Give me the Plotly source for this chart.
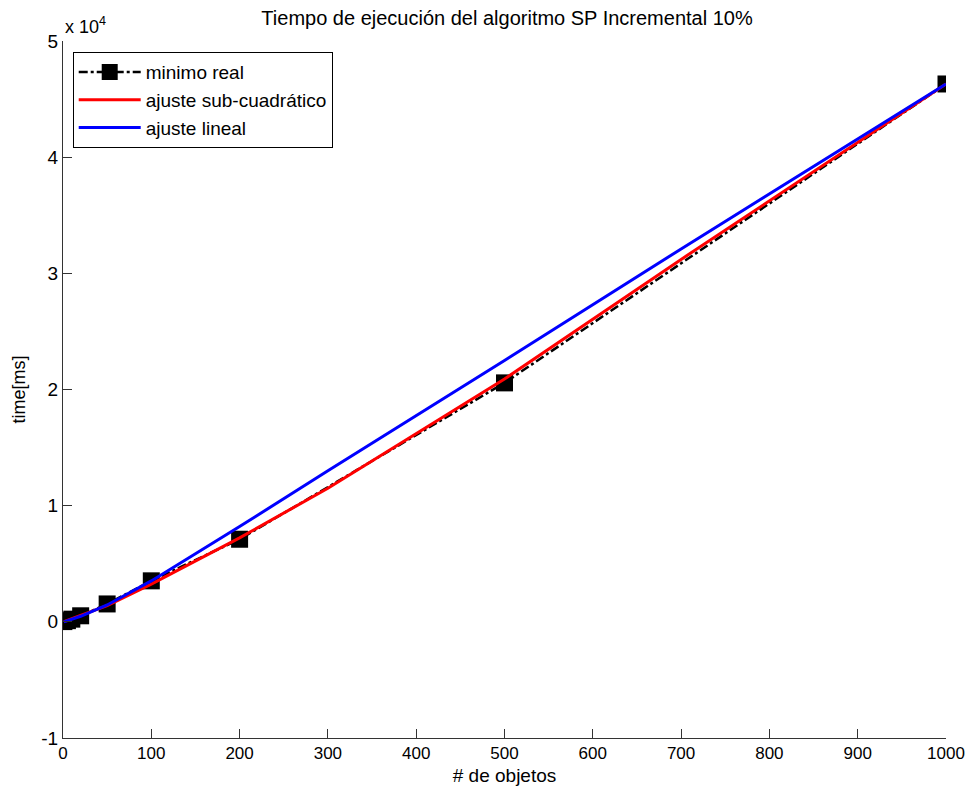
import plotly.graph_objects as go

# Measured minimum execution times (ms) per number of objects
n_objs = [1, 5, 10, 20, 50, 100, 200, 500, 1000]
min_real = [20, 100, 230, 520, 1540, 3530, 7110, 20570, 46300]

# Fitted curves evaluated at a set of object counts
x_fit = [1, 5, 10, 20, 50, 100, 200, 300, 500, 700, 1000]
fit_subquad = [20, 120, 260, 560, 1400, 3250, 7230, 11500, 20900, 31200, 46300]
fit_linear = [0, 100, 220, 480, 1450, 3520, 8200, 13000, 22500, 32100, 46300]

x_ticks = [0, 100, 200, 300, 400, 500, 600, 700, 800, 900, 1000]
y_ticks = [-10000, 0, 10000, 20000, 30000, 40000, 50000]
y_tick_text = ["-1", "0", "1", "2", "3", "4", "5"]

font_main = "Liberation Sans, Arial, sans-serif"

fig = go.Figure()
fig.add_trace(go.Scatter(
    x=n_objs, y=min_real, mode="lines+markers", name="minimo real",
    line=dict(color="black", width=2.5, dash="dashdot"),
    marker=dict(symbol="square", size=17, color="black"),
))
fig.add_trace(go.Scatter(
    x=x_fit, y=fit_subquad, mode="lines", name="ajuste sub-cuadrático",
    line=dict(color="#ff0000", width=3),
))
fig.add_trace(go.Scatter(
    x=x_fit, y=fit_linear, mode="lines", name="ajuste lineal",
    line=dict(color="#0000ff", width=3),
))

fig.update_layout(
    width=977, height=795,
    margin=dict(l=63, r=22, t=41, b=55),
    paper_bgcolor="white", plot_bgcolor="white",
    font=dict(family=font_main, size=18, color="black"),
    title=dict(text="Tiempo de ejecución del algoritmo SP Incremental 10%",
               x=0.519, xanchor="center", y=0.977, yanchor="middle",
               font=dict(family=font_main, size=20)),
    showlegend=True,
    legend=dict(x=0.011, y=0.984, xanchor="left", yanchor="top",
                bgcolor="white", bordercolor="black", borderwidth=1,
                font=dict(family=font_main, size=19), itemwidth=62,
                tracegroupgap=0),
    xaxis=dict(range=[0, 1000], tickvals=x_ticks, ticks="inside", ticklen=9,
               tickcolor="#333333", showline=True, linecolor="#333333",
               linewidth=1, showgrid=False, zeroline=False, mirror=False,
               tickfont=dict(family=font_main, size=17),
               title=dict(text="# de objetos", standoff=6,
                          font=dict(family=font_main, size=19))),
    yaxis=dict(range=[-10000, 50000], tickvals=y_ticks, ticktext=y_tick_text,
               ticks="inside", ticklen=9, tickcolor="#333333", showline=True,
               linecolor="#333333", linewidth=1, showgrid=False,
               zeroline=False, mirror=False,
               tickfont=dict(family=font_main, size=19),
               title=dict(text="time[ms]", standoff=10,
                          font=dict(family=font_main, size=18))),
)

# Exponent factor shown above the y axis
fig.add_annotation(text="x 10<sup>4</sup>", xref="paper", yref="paper",
                   x=0.0, y=1.0, xanchor="left", yanchor="bottom", yshift=2,
                   showarrow=False, font=dict(family=font_main, size=18))

fig.write_html("out.html")
